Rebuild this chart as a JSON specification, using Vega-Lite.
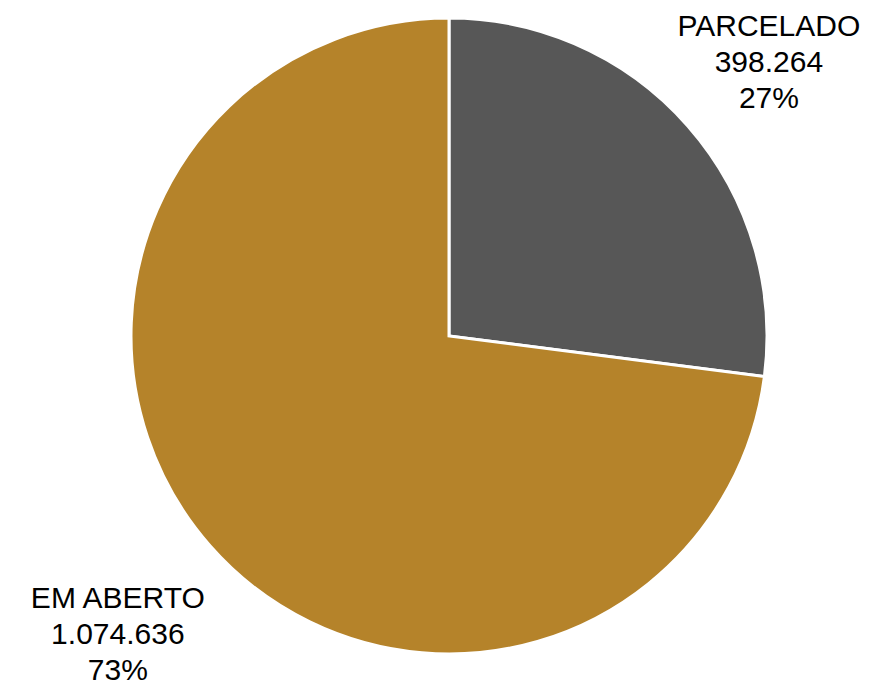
{
  "$schema": "https://vega.github.io/schema/vega-lite/v6.json",
  "autosize": "none",
  "width": 856,
  "height": 672,
  "padding": {"left": 21, "top": 0, "right": 0, "bottom": 10},
  "config": {
    "view": {"stroke": null},
    "locale": {
      "number": {"decimal": ",", "thousands": ".", "grouping": [3], "currency": ["R$", ""]}
    },
    "text": {"font": "Liberation Sans", "fontSize": 30, "fill": "#000000"}
  },
  "data": {
    "values": [
      {"category": "PARCELADO", "value": 398264},
      {"category": "EM ABERTO", "value": 1074636}
    ]
  },
  "transform": [
    {"joinaggregate": [{"op": "sum", "field": "value", "as": "total"}]},
    {"calculate": "datum.value / datum.total", "as": "pct"}
  ],
  "encoding": {
    "theta": {"field": "value", "type": "quantitative", "stack": true},
    "order": {"field": "category", "sort": "descending"},
    "color": {
      "field": "category",
      "type": "nominal",
      "scale": {"domain": ["PARCELADO", "EM ABERTO"], "range": ["#575757", "#B5832A"]},
      "legend": null
    }
  },
  "layer": [
    {"mark": {"type": "arc", "outerRadius": 318, "stroke": "#ffffff", "strokeWidth": 3}},
    {
      "mark": {"type": "text", "dy": -28, "fill": "#000000"},
      "encoding": {
        "text": {"field": "category", "type": "nominal"},
        "radius": {"field": "value", "type": "quantitative", "scale": {"type": "linear", "domain": [398264, 1074636], "range": [426, 441], "zero": false}}
      }
    },
    {
      "mark": {"type": "text", "dy": 8, "fill": "#000000"},
      "encoding": {
        "text": {"field": "value", "type": "quantitative", "format": ",.0f"},
        "radius": {"field": "value", "type": "quantitative", "scale": {"type": "linear", "domain": [398264, 1074636], "range": [426, 441], "zero": false}}
      }
    },
    {
      "mark": {"type": "text", "dy": 44, "fill": "#000000"},
      "encoding": {
        "text": {"field": "pct", "type": "quantitative", "format": ".0%"},
        "radius": {"field": "value", "type": "quantitative", "scale": {"type": "linear", "domain": [398264, 1074636], "range": [426, 441], "zero": false}}
      }
    }
  ]
}
